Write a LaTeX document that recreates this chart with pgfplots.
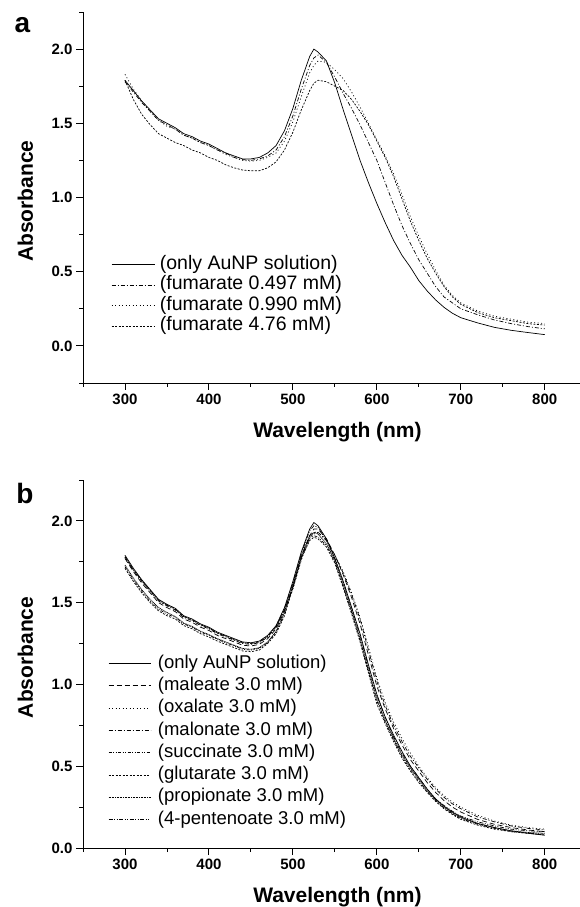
\documentclass[border=0pt]{standalone}
\usepackage{fontspec}
\setmainfont{Liberation Sans}
\usepackage{pgfplots}
\usepackage{pgfplotstable}
\pgfplotsset{compat=1.18}

% panel a: AuNP with fumarate
\pgfplotstableread{
lam au f1 f2 f3
300 1.79 1.78 1.83 1.79
310 1.72 1.71 1.73 1.66
320 1.65 1.64 1.65 1.56
330 1.59 1.58 1.58 1.49
340 1.53 1.52 1.52 1.43
350 1.50 1.49 1.48 1.40
360 1.47 1.46 1.46 1.37
370 1.43 1.42 1.42 1.35
380 1.41 1.40 1.40 1.32
390 1.38 1.37 1.37 1.30
400 1.36 1.35 1.35 1.27
410 1.33 1.32 1.32 1.25
420 1.30 1.30 1.29 1.22
430 1.28 1.27 1.27 1.20
440 1.26 1.255 1.25 1.185
450 1.26 1.25 1.245 1.18
460 1.27 1.26 1.25 1.18
470 1.30 1.28 1.27 1.20
480 1.35 1.32 1.30 1.24
490 1.45 1.41 1.38 1.32
500 1.60 1.55 1.51 1.44
510 1.79 1.73 1.68 1.59
520 1.95 1.89 1.84 1.72
525 2.00 1.94 1.89 1.77
530 1.98 1.96 1.92 1.79
540 1.92 1.91 1.91 1.78
550 1.77 1.81 1.86 1.75
560 1.59 1.70 1.80 1.72
570 1.42 1.60 1.71 1.66
580 1.25 1.49 1.61 1.58
590 1.10 1.37 1.50 1.49
600 0.96 1.25 1.39 1.38
610 0.83 1.10 1.28 1.27
620 0.71 0.95 1.16 1.14
630 0.61 0.81 1.02 0.99
640 0.53 0.69 0.87 0.84
650 0.44 0.58 0.74 0.71
660 0.37 0.49 0.62 0.59
670 0.31 0.40 0.51 0.49
680 0.26 0.33 0.41 0.40
690 0.22 0.29 0.34 0.33
700 0.19 0.25 0.29 0.28
720 0.155 0.21 0.235 0.225
740 0.125 0.175 0.20 0.19
760 0.105 0.15 0.18 0.17
780 0.09 0.13 0.16 0.15
800 0.076 0.115 0.15 0.14
}\fumtab

% panel b: AuNP with other carboxylates, 3.0 mM
\pgfplotstableread{
lam au male oxal malo succ glut prop pent
300 1.79 1.77 1.78 1.78 1.72 1.71 1.73 1.78
310 1.71 1.69 1.70 1.70 1.64 1.63 1.65 1.70
320 1.64 1.62 1.635 1.63 1.57 1.56 1.58 1.635
330 1.58 1.56 1.575 1.57 1.51 1.50 1.52 1.575
340 1.52 1.50 1.515 1.51 1.46 1.45 1.47 1.515
350 1.49 1.47 1.485 1.48 1.43 1.42 1.44 1.485
360 1.465 1.445 1.46 1.455 1.41 1.40 1.415 1.46
370 1.42 1.40 1.415 1.41 1.37 1.36 1.375 1.415
380 1.40 1.38 1.395 1.39 1.35 1.34 1.355 1.395
390 1.37 1.35 1.365 1.36 1.32 1.31 1.325 1.365
400 1.35 1.33 1.345 1.34 1.30 1.29 1.305 1.345
410 1.32 1.30 1.315 1.31 1.275 1.265 1.28 1.315
420 1.30 1.28 1.295 1.29 1.255 1.245 1.26 1.295
430 1.28 1.26 1.275 1.27 1.235 1.225 1.24 1.275
440 1.26 1.24 1.255 1.25 1.215 1.205 1.22 1.255
450 1.255 1.235 1.25 1.245 1.21 1.20 1.215 1.25
460 1.265 1.245 1.26 1.255 1.22 1.21 1.225 1.26
470 1.30 1.28 1.29 1.29 1.255 1.25 1.26 1.295
480 1.36 1.34 1.35 1.35 1.32 1.31 1.325 1.355
490 1.47 1.45 1.45 1.46 1.43 1.42 1.44 1.465
500 1.63 1.60 1.58 1.59 1.60 1.59 1.61 1.62
510 1.81 1.78 1.76 1.77 1.78 1.77 1.79 1.80
520 1.95 1.91 1.89 1.90 1.90 1.88 1.91 1.94
525 1.99 1.95 1.92 1.93 1.91 1.90 1.93 1.97
530 1.97 1.95 1.93 1.93 1.90 1.89 1.92 1.96
540 1.89 1.89 1.88 1.88 1.85 1.84 1.86 1.88
550 1.77 1.79 1.79 1.79 1.75 1.74 1.76 1.77
560 1.63 1.67 1.69 1.68 1.60 1.59 1.61 1.63
570 1.47 1.53 1.56 1.55 1.44 1.43 1.45 1.47
580 1.31 1.37 1.41 1.40 1.27 1.26 1.28 1.30
590 1.12 1.18 1.23 1.21 1.08 1.07 1.09 1.11
600 0.94 0.99 1.04 1.02 0.90 0.88 0.91 0.93
610 0.80 0.85 0.89 0.87 0.77 0.76 0.78 0.80
620 0.69 0.73 0.77 0.75 0.66 0.65 0.67 0.68
630 0.59 0.63 0.67 0.65 0.56 0.55 0.57 0.58
640 0.50 0.54 0.58 0.56 0.48 0.47 0.49 0.50
650 0.43 0.47 0.50 0.49 0.41 0.40 0.42 0.43
660 0.36 0.40 0.43 0.42 0.345 0.34 0.35 0.36
670 0.30 0.34 0.37 0.36 0.29 0.285 0.295 0.30
680 0.255 0.29 0.32 0.31 0.245 0.24 0.25 0.26
690 0.22 0.25 0.28 0.27 0.21 0.205 0.215 0.225
700 0.19 0.22 0.25 0.24 0.18 0.175 0.185 0.195
720 0.15 0.175 0.20 0.19 0.145 0.14 0.15 0.16
740 0.125 0.145 0.165 0.16 0.12 0.115 0.125 0.135
760 0.105 0.125 0.14 0.135 0.10 0.10 0.105 0.115
780 0.09 0.11 0.125 0.12 0.09 0.09 0.095 0.105
800 0.078 0.10 0.115 0.11 0.085 0.08 0.09 0.10
}\acidtab

\pgfplotsset{
  uvvis/.style={
    scale only axis, width=497pt, clip=false,
    xmin=250, xmax=842,
    axis x line*=bottom, axis y line*=left,
    axis line style={line width=0.9pt},
    tick align=outside,
    tick style={black, line width=0.9pt},
    major tick length=7pt, minor tick length=4pt,
    xtick={300,400,...,800},
    minor xtick={250,350,...,850},
    ytick={0,0.5,...,2.0},
    minor ytick={-0.25,0.25,...,2.25},
    /pgf/number format/assume math mode=true,
    ticklabel style={font=\fontsize{15}{15}\selectfont\bfseries},
    y tick label style={/pgf/number format/.cd, fixed, fixed zerofill, precision=1, /tikz/.cd},
    label style={font=\fontsize{21}{21}\selectfont\bfseries},
    xlabel={Wavelength (nm)}, ylabel={Absorbance},
    legend cell align=left,
    every axis plot/.append style={black, line width=0.7pt, mark=none},
  },
  ssolid/.style={solid},
  sdashdot/.style={dash pattern=on 4pt off 2pt on 1pt off 2pt},
  sdotted/.style={dash pattern=on 1pt off 2.5pt},
  sshort/.style={dash pattern=on 2pt off 1.5pt},
  sdashed/.style={dash pattern=on 5pt off 3pt},
  sdashdotdot/.style={dash pattern=on 3pt off 1.5pt on 1pt off 1.5pt on 1pt off 1.5pt},
  sdense/.style={dash pattern=on 1pt off 0.6pt},
  slongdd/.style={dash pattern=on 4pt off 1.5pt on 1pt off 1.5pt on 1pt off 1.5pt},
}

\begin{document}
\begin{tikzpicture}
\path[use as bounding box] (0,0) rectangle (580pt,907pt);

% ---- panel a ----
\begin{axis}[uvvis,
  at={(83pt,524pt)}, anchor=south west, height=371pt,
  ymin=-0.25, ymax=2.25,
  xlabel style={at={(axis description cs:0.512,-0.1334)}, anchor=center},
  ylabel style={at={(axis description cs:-0.116,0.49)}, anchor=center},
  legend image code/.code={\draw[#1] (0pt,0pt) -- (43pt,0pt);},
  legend style={at={(axis description cs:0.0563,0.345)}, anchor=north west,
    draw=none, fill=none, inner sep=0pt, row sep=2pt, column sep=5pt,
    font=\fontsize{19.5}{19.5}\selectfont,
    nodes={inner sep=0pt, text height=14pt, text depth=4.5pt}},
]
\addplot[ssolid] table[x=lam, y=au] {\fumtab};
\addlegendentry{(only AuNP solution)}
\addplot[sdashdot] table[x=lam, y=f1] {\fumtab};
\addlegendentry{(fumarate 0.497 mM)}
\addplot[sdotted] table[x=lam, y=f2] {\fumtab};
\addlegendentry{(fumarate 0.990 mM)}
\addplot[sshort] table[x=lam, y=f3] {\fumtab};
\addlegendentry{(fumarate 4.76 mM)}
\node[font=\fontsize{28}{28}\selectfont\bfseries] at (axis description cs:-0.1217,0.965) {a};
\end{axis}

% ---- panel b ----
\begin{axis}[uvvis,
  at={(83pt,59pt)}, anchor=south west, height=368pt,
  ymin=0, ymax=2.25,
  xlabel style={at={(axis description cs:0.512,-0.1345)}, anchor=center},
  ylabel style={at={(axis description cs:-0.116,0.518)}, anchor=center},
  legend image code/.code={\draw[#1] (0pt,0pt) -- (42pt,0pt);},
  legend style={at={(axis description cs:0.0503,0.526)}, anchor=north west,
    draw=none, fill=none, inner sep=0pt, row sep=4.5pt, column sep=7pt,
    font=\fontsize{18.5}{18.5}\selectfont,
    nodes={inner sep=0pt, text height=13.5pt, text depth=4.3pt}},
]
\addplot[ssolid] table[x=lam, y=au] {\acidtab};
\addlegendentry{(only AuNP solution)}
\addplot[sdashed] table[x=lam, y=male] {\acidtab};
\addlegendentry{(maleate 3.0 mM)}
\addplot[sdotted] table[x=lam, y=oxal] {\acidtab};
\addlegendentry{(oxalate 3.0 mM)}
\addplot[sdashdot] table[x=lam, y=malo] {\acidtab};
\addlegendentry{(malonate 3.0 mM)}
\addplot[sdashdotdot] table[x=lam, y=succ] {\acidtab};
\addlegendentry{(succinate 3.0 mM)}
\addplot[sshort] table[x=lam, y=glut] {\acidtab};
\addlegendentry{(glutarate 3.0 mM)}
\addplot[sdense] table[x=lam, y=prop] {\acidtab};
\addlegendentry{(propionate 3.0 mM)}
\addplot[slongdd] table[x=lam, y=pent] {\acidtab};
\addlegendentry{(4-pentenoate 3.0 mM)}
\node[font=\fontsize{28}{28}\selectfont\bfseries] at (axis description cs:-0.1167,0.962) {b};
\end{axis}
\end{tikzpicture}
\end{document}
